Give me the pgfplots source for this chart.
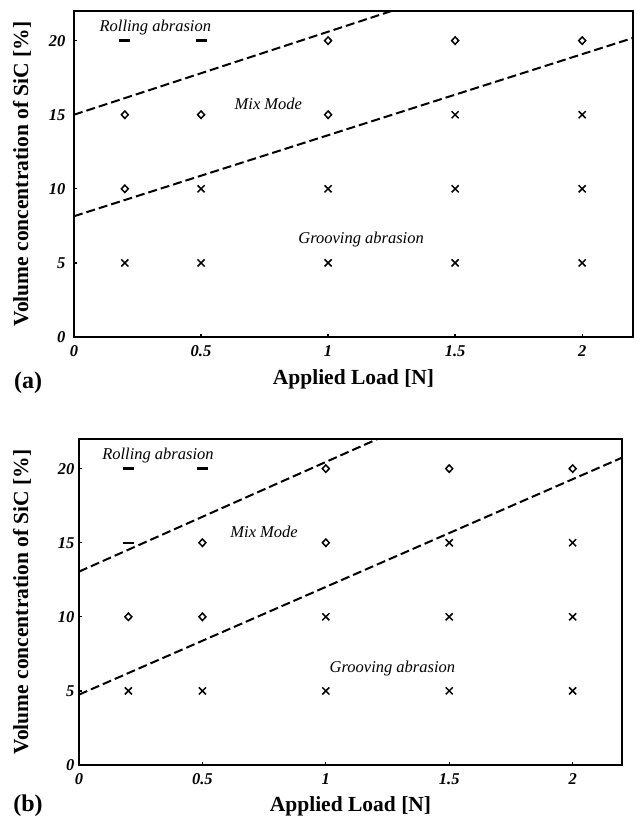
\documentclass[border=0pt]{standalone}
\usepackage{fontspec}
\setmainfont{Liberation Serif}
\usepackage{pgfplots}
\pgfplotsset{compat=1.18}

\pgfplotsset{
  regime/.style={
    scale only axis, height=326pt,
    xmin=0, xmax=2.2, ymin=0, ymax=22,
    axis line style={line width=1.7pt},
    xtick={0,0.5,1,1.5,2}, ytick={0,5,10,15,20},
    tick align=inside, xtick pos=bottom, ytick pos=left,
    major tick length=2.5pt, tick style={line width=1.3pt, black},
    /pgf/number format/assume math mode=true,
    ticklabel style={font=\fontsize{16.5}{19}\selectfont\bfseries\itshape},
    xticklabel style={yshift=-5pt},
    label style={font=\fontsize{21.5}{24}\selectfont\bfseries},
    xlabel={Applied Load [N]},
    ylabel={Volume concentration of SiC [\%]},
    xlabel style={anchor=center},
    ylabel style={anchor=center},
  },
  dashmk/.style={only marks, mark=-, mark size=5.5pt, mark options={line width=2.4pt}},
  diamk/.style={only marks, mark=diamond, mark size=3.7pt, mark options={line width=1.5pt, xscale=1.25}},
  crossmk/.style={only marks, mark=x, mark size=5pt, mark options={line width=1.5pt}},
  bound/.style={no marks, line width=2pt, dash pattern=on 9pt off 4pt},
}
\tikzset{ann/.style={font=\fontsize{16.5}{19}\selectfont\itshape}}

\begin{document}
\begin{tikzpicture}
\path[use as bounding box] (0,0) rectangle (636pt,818pt);

% ---------- (a) ----------
\begin{axis}[regime, at={(74pt,481pt)}, anchor=south west, width=559pt,
  yticklabel style={xshift=-5pt},
  xlabel style={at={(axis description cs:0.5,-0.1288)}},
  ylabel style={at={(axis description cs:-0.0930,0.5)}}]
\addplot[bound] coordinates {(0,15) (2.2,27.32)};
\addplot[bound] coordinates {(0,8.15) (2.2,20.18)};
\addplot[dashmk] coordinates {(0.2,20) (0.5,20)};
\addplot[diamk] coordinates {(1,20) (1.5,20) (2,20) (0.2,15) (0.5,15) (1,15) (0.2,10)};
\addplot[crossmk] coordinates {(1.5,15) (2,15) (0.5,10) (1,10) (1.5,10) (2,10)
  (0.2,5) (0.5,5) (1,5) (1.5,5) (2,5)};
\node[ann] at (axis cs:0.32,20.9) {Rolling abrasion};
\node[ann] at (axis cs:0.765,15.7) {Mix Mode};
\node[ann] at (axis cs:1.13,6.55) {Grooving abrasion};
\end{axis}
\node[font=\fontsize{24}{28}\selectfont\bfseries] at (28pt,435pt) {(a)};

% ---------- (b) ----------
\begin{axis}[regime, at={(79pt,53pt)}, anchor=south west, width=543pt,
  yticklabel style={xshift=-1pt},
  xlabel style={at={(axis description cs:0.5,-0.1258)}},
  ylabel style={at={(axis description cs:-0.1050,0.5)}}]
\addplot[bound] coordinates {(0,13.05) (2.2,29.33)};
\addplot[bound] coordinates {(0,4.75) (2.2,20.74)};
\addplot[dashmk] coordinates {(0.2,20) (0.5,20) (0.2,15)};
\addplot[diamk] coordinates {(1,20) (1.5,20) (2,20) (0.5,15) (1,15) (0.2,10) (0.5,10)};
\addplot[crossmk] coordinates {(1.5,15) (2,15) (1,10) (1.5,10) (2,10)
  (0.2,5) (0.5,5) (1,5) (1.5,5) (2,5)};
\node[ann] at (axis cs:0.32,20.9) {Rolling abrasion};
\node[ann] at (axis cs:0.75,15.75) {Mix Mode};
\node[ann] at (axis cs:1.27,6.5) {Grooving abrasion};
\end{axis}
\node[font=\fontsize{24}{28}\selectfont\bfseries] at (28pt,12pt) {(b)};
\end{tikzpicture}
\end{document}
